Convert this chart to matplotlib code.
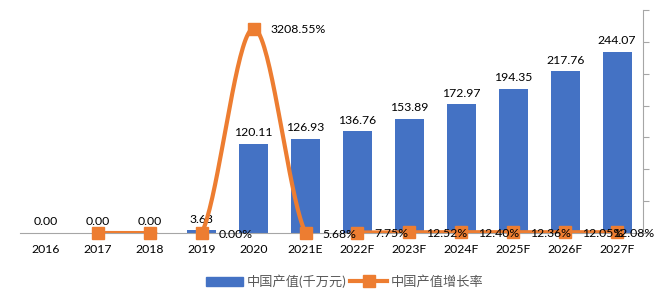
import numpy as np
import matplotlib
matplotlib.use("Agg")
import matplotlib.pyplot as plt
from matplotlib.patches import Patch
from matplotlib.lines import Line2D

plt.rcParams['font.family'] = ['Lato', 'Noto Sans CJK SC', 'DejaVu Sans']

# data
years = ['2016', '2017', '2018', '2019', '2020', '2021E', '2022F',
         '2023F', '2024F', '2025F', '2026F', '2027F']
output = [0.00, 0.00, 0.00, 3.63, 120.11, 126.93, 136.76, 153.89,
          172.97, 194.35, 217.76, 244.07]
growth = [None, 0.00, 0.00, 0.00, 3208.55, 5.68, 7.75, 12.52,
          12.40, 12.36, 12.05, 12.08]
growth_labels = [None, None, None, '0.00%', '3208.55%', '5.68%', '7.75%',
                 '12.52%', '12.40%', '12.36%', '12.05%', '12.08%']

blue = '#4472C4'
orange = '#ED7D31'
txt = '#000000'

fig = plt.figure(figsize=(6.63, 3.0), dpi=100)
ax = fig.add_axes([0.030, 0.2233, 0.940, 0.7434])
x = np.arange(len(years))

ax.bar(x, output, width=0.56, color=blue, zorder=2)
for xi, v in zip(x, output):
    ax.annotate('%.2f' % v, (xi, v), xytext=(0, 4), textcoords='offset points',
                ha='center', va='bottom', fontsize=8.8, color=txt)

ax.set_xlim(-0.5, len(years) - 0.5)
ax.set_ylim(0, 300)
ax.set_xticks(x)
ax.set_xticklabels(years, fontsize=8.8, color=txt)
ax.tick_params(axis='x', length=0, pad=8)
ax.set_yticks([])
for s in ['top', 'left', 'right']:
    ax.spines[s].set_visible(False)
ax.spines['bottom'].set_color('#A6A6A6')

# growth rate on the right axis, smoothed line like the spreadsheet chart
ax2 = ax.twinx()
ax2.set_ylim(0, 3500)
ax2.set_yticks(np.arange(0, 3501, 500))
ax2.set_yticklabels([])
ax2.tick_params(axis='y', direction='out', length=4, color='#A6A6A6')
for s in ['top', 'left', 'bottom']:
    ax2.spines[s].set_visible(False)
ax2.spines['right'].set_color('#A6A6A6')

gx = np.array([i for i, g in enumerate(growth) if g is not None], dtype=float)
gy = np.array([g for g in growth if g is not None], dtype=float)
px = np.concatenate([[2 * gx[0] - gx[1]], gx, [2 * gx[-1] - gx[-2]]])
py = np.concatenate([[gy[0]], gy, [gy[-1]]])
sx, sy = [], []
t = np.linspace(0, 1, 40)
for i in range(1, len(px) - 2):
    p0, p1, p2, p3 = px[i - 1], px[i], px[i + 1], px[i + 2]
    q0, q1, q2, q3 = py[i - 1], py[i], py[i + 1], py[i + 2]
    cx = 0.5 * ((2 * p1) + (-p0 + p2) * t + (2 * p0 - 5 * p1 + 4 * p2 - p3) * t ** 2
                + (-p0 + 3 * p1 - 3 * p2 + p3) * t ** 3)
    cy = 0.5 * ((2 * q1) + (-q0 + q2) * t + (2 * q0 - 5 * q1 + 4 * q2 - q3) * t ** 2
                + (-q0 + 3 * q1 - 3 * q2 + q3) * t ** 3)
    sx.extend(cx)
    sy.extend(cy)
ax2.plot(sx, sy, color=orange, lw=3, zorder=3, solid_capstyle='round')
ax2.plot(gx, gy, ls='none', marker='s', ms=8.5, color=orange, zorder=4, clip_on=False)
for xi, v, lab in zip(x, growth, growth_labels):
    if lab is None:
        continue
    dx = -3 if xi == len(years) - 1 else 12
    ax2.annotate(lab, (xi, v), xytext=(dx, -1), textcoords='offset points',
                 ha='left', va='center', fontsize=8.8, color=txt, zorder=5)

handles = [Patch(color=blue),
           Line2D([], [], color=orange, lw=3, marker='s', ms=8.5)]
fig.legend(handles, ['中国产值(千万元)', '中国产值增长率'], loc='center',
           bbox_to_anchor=(0.52, 0.063), ncol=2, frameon=False, fontsize=9.5,
           labelcolor='#595959', handlelength=2.8, columnspacing=0.3,
           handletextpad=0.3)

fig.savefig('out.png', dpi=100)
